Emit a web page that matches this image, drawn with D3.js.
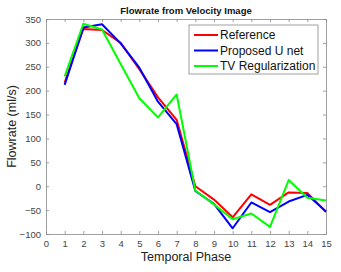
<!DOCTYPE html>
<html>
<head>
<meta charset="utf-8">
<script src="https://cdn.jsdelivr.net/npm/d3@7"></script>
<style>
  body { margin: 0; background: #fff; }
  svg { font-family: Arial, "Liberation Sans", sans-serif; }
</style>
</head>
<body>
<svg id="chart" width="341" height="272"></svg>
<script>
// temporal phases
var phases = [1, 2, 3, 4, 5, 6, 7, 8, 9, 10, 11, 12, 13, 14, 15];
// flowrate (ml/s) per method
var reference = [217, 329, 327, 300, 245, 186, 139, 0, -28, -65, -17, -39, -13, -14, -54];
var unet = [212, 332, 339, 299, 248, 177, 130, -10, -37, -88, -34, -54, -32, -18, -53];
var tvReg = [230, 340, 328, 256, 184, 144, 192, -9, -38, -69, -57, -85, 13, -24, -30];

var xTicks = d3.range(0, 16);
var yTicks = d3.range(-100, 351, 50);

var series = [
  {name: "Reference", values: reference, color: "#ff0000"},
  {name: "Proposed U net", values: unet, color: "#0000ff"},
  {name: "TV Regularization", values: tvReg, color: "#00ff00"}
];

var svg = d3.select("#chart");
var m = {left: 46, right: 326, top: 19, bottom: 234};

var x = d3.scaleLinear().domain([0, 15]).range([m.left, m.right]);
var y = d3.scaleLinear().domain([-100, 350]).range([m.bottom, m.top]);

// plot box
svg.append("rect")
  .attr("x", m.left).attr("y", m.top)
  .attr("width", m.right - m.left).attr("height", m.bottom - m.top)
  .attr("fill", "#fff");

// bottom / left axes with inward ticks
svg.append("g")
  .attr("transform", "translate(0," + m.bottom + ")")
  .call(d3.axisBottom(x).tickValues(xTicks).tickSizeInner(-3).tickSizeOuter(0).tickPadding(6));
svg.append("g")
  .attr("transform", "translate(" + m.left + ",0)")
  .call(d3.axisLeft(y).tickValues(yTicks).tickSizeInner(-3).tickSizeOuter(0).tickPadding(5));
// top / right mirror ticks
svg.append("g")
  .attr("transform", "translate(0," + m.top + ")")
  .call(d3.axisTop(x).tickValues(xTicks).tickSizeInner(-3).tickSizeOuter(0).tickFormat(""));
svg.append("g")
  .attr("transform", "translate(" + m.right + ",0)")
  .call(d3.axisRight(y).tickValues(yTicks).tickSizeInner(-3).tickSizeOuter(0).tickFormat(""));

svg.selectAll(".domain, .tick line").attr("stroke", "#888").attr("stroke-width", 0.8);
svg.selectAll(".tick text").attr("fill", "#444").style("font-size", "9.5px");

// lines
var line = d3.line()
  .x(function(d, i) { return x(phases[i]); })
  .y(function(d) { return y(d); });

svg.append("g").selectAll("path")
  .data(series)
  .enter().append("path")
  .attr("d", function(s) { return line(s.values); })
  .attr("fill", "none")
  .attr("stroke", function(s) { return s.color; })
  .attr("stroke-width", 2)
  .attr("stroke-linejoin", "round");

// title
svg.append("text")
  .attr("x", (m.left + m.right) / 2).attr("y", 14)
  .attr("text-anchor", "middle")
  .style("font-size", "9.5px").style("font-weight", "bold")
  .attr("fill", "#111")
  .text("Flowrate from Velocity Image");

// axis labels
svg.append("text")
  .attr("x", (m.left + m.right) / 2).attr("y", 261)
  .attr("text-anchor", "middle")
  .style("font-size", "12.5px")
  .attr("fill", "#222")
  .text("Temporal Phase");
svg.append("text")
  .attr("transform", "translate(16," + (m.top + m.bottom) / 2 + ") rotate(-90)")
  .attr("text-anchor", "middle")
  .style("font-size", "12.5px")
  .attr("fill", "#222")
  .text("Flowrate (ml/s)");

// legend
var legend = svg.append("g").attr("transform", "translate(189,25)");
legend.append("rect")
  .attr("width", 129).attr("height", 49)
  .attr("fill", "#fff").attr("stroke", "#888").attr("stroke-width", 0.8);
var item = legend.selectAll(".item")
  .data(series)
  .enter().append("g")
  .attr("transform", function(d, i) { return "translate(0," + (10 + i * 15.5) + ")"; });
item.append("line")
  .attr("x1", 5).attr("x2", 29)
  .attr("stroke", function(d) { return d.color; })
  .attr("stroke-width", 2);
item.append("text")
  .attr("x", 31).attr("dy", "0.35em")
  .style("font-size", "12px")
  .attr("fill", "#111")
  .text(function(d) { return d.name; });
</script>
</body>
</html>
